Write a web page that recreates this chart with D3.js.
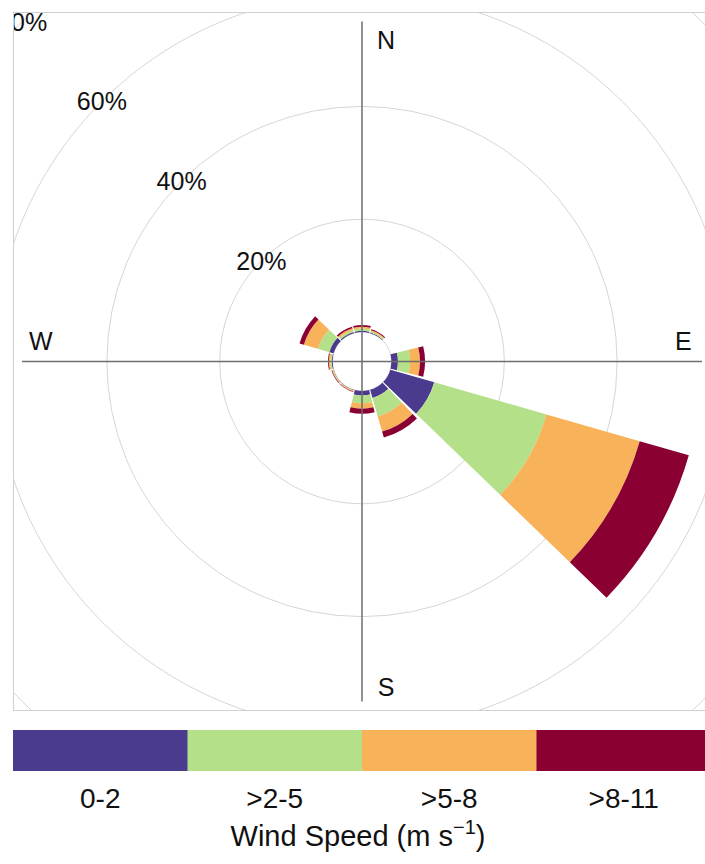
<!DOCTYPE html>
<html>
<head>
<meta charset="utf-8">
<script src="https://cdn.jsdelivr.net/npm/d3@7"></script>
<style>
  html, body { margin: 0; padding: 0; background: #fff; }
  svg { display: block; font-family: "Liberation Sans", Arial, Helvetica, sans-serif; }
</style>
</head>
<body>
<svg id="chart" width="705" height="864"></svg>
<script>
// Wind direction sectors (degrees from north, clockwise)
const directions = [0, 30, 60, 90, 120, 150, 180, 210, 240, 270, 300, 330];

// Percentage of time in each speed band, per direction sector
const speed0to2  = [0.20, 0.10, 0, 1.15,  8.10, 1.50, 0.80, 0.05, 0.05, 0.15, 0.80, 0.20];
const speed2to5  = [0.40, 0.25, 0, 2.15, 20.70, 3.40, 1.35, 0.10, 0.10, 0.25, 2.10, 0.35];
const speed5to8  = [0.35, 0.20, 0, 1.75, 17.20, 2.80, 1.00, 0.15, 0.15, 0.25, 2.60, 0.35];
const speed8to11 = [0.30, 0.15, 0, 0.90,  9.05, 1.10, 0.90, 0.10, 0.10, 0.15, 0.80, 0.30];

const bandLabels = ["0-2", ">2-5", ">5-8", ">8-11"];
const bandColors = ["#4b3b8f", "#b4e08a", "#f8b259", "#8b0033"];
const gridLevels = [0, 20, 40, 60, 80];
const gridLabels = ["20%", "40%", "60%", "80%"];
const compassLabels = ["N", "E", "S", "W"];

const series = [speed0to2, speed2to5, speed5to8, speed8to11];

const svg = d3.select("#chart");

// Plot panel
const panel = { x: 13, y: 12, w: 698, h: 699 };
const cx = panel.x + panel.w / 2;
const cy = panel.y + panel.h / 2;

// Radial scale: percentage -> radius, with a central hole
const r = d3.scaleLinear().domain([0, 20]).range([29.5, 142.3]);

svg.append("defs").append("clipPath").attr("id", "panelClip")
  .append("rect").attr("x", panel.x).attr("y", panel.y).attr("width", panel.w).attr("height", panel.h);

const g = svg.append("g").attr("clip-path", "url(#panelClip)");
const center = g.append("g").attr("transform", `translate(${cx},${cy})`);

// Grid circles
center.selectAll("circle.grid").data(gridLevels).join("circle")
  .attr("class", "grid")
  .attr("r", d => r(d))
  .attr("fill", "none")
  .attr("stroke", "#d6d6d6")
  .attr("stroke-width", 1);

// Stacked sectors
const stacked = directions.map((dir, i) => {
  let acc = 0;
  return series.map((s, k) => {
    const start = acc;
    acc += s[i];
    return { dir, k, start, end: acc };
  });
}).flat().filter(d => d.end > d.start);

const halfWidth = 14 * Math.PI / 180;
const arc = d3.arc()
  .innerRadius(d => r(d.start))
  .outerRadius(d => r(d.end))
  .startAngle(d => d.dir * Math.PI / 180 - halfWidth)
  .endAngle(d => d.dir * Math.PI / 180 + halfWidth);

center.selectAll("path.band").data(stacked).join("path")
  .attr("class", "band")
  .attr("d", arc)
  .attr("fill", d => bandColors[d.k]);

// Compass axes, reaching out to the longest sector
const totals = directions.map((_, i) => d3.sum(series, s => s[i]));
const R = r(d3.max(totals));

center.append("line").attr("x1", 0).attr("x2", 0).attr("y1", -R).attr("y2", R)
  .attr("stroke", "#6e6e6e").attr("stroke-width", 1.5);
center.append("line").attr("x1", -R).attr("x2", R).attr("y1", 0).attr("y2", 0)
  .attr("stroke", "#6e6e6e").attr("stroke-width", 1.5);

// Compass labels
const lr = R * 0.945;
const compassPos = {
  N: [24, -lr], E: [lr, -21], S: [24, lr + 4], W: [-lr, -21]
};
center.selectAll("text.compass").data(compassLabels).join("text")
  .attr("class", "compass")
  .attr("x", d => compassPos[d][0])
  .attr("y", d => compassPos[d][1])
  .attr("dy", "0.36em")
  .attr("text-anchor", "middle")
  .attr("font-size", 25)
  .attr("fill", "#111")
  .text(d => d);

// Percentage labels along the north-west diagonal
const diag = Math.SQRT1_2;
center.selectAll("text.pct").data(gridLabels).join("text")
  .attr("class", "pct")
  .attr("x", (d, i) => -r(gridLevels[i + 1]) * diag)
  .attr("y", (d, i) => -r(gridLevels[i + 1]) * diag)
  .attr("dy", "0.36em")
  .attr("text-anchor", "middle")
  .attr("font-size", 25)
  .attr("fill", "#111")
  .text(d => d);

// Panel border
svg.append("rect")
  .attr("x", panel.x + 0.5).attr("y", panel.y + 0.5)
  .attr("width", panel.w - 1).attr("height", panel.h - 1)
  .attr("fill", "none").attr("stroke", "#d0d0d0").attr("stroke-width", 1);

// Legend colour bar
const legend = svg.append("g");
const lx = d3.scaleBand().domain(bandLabels).range([panel.x, panel.x + panel.w]).paddingInner(0);
legend.selectAll("rect").data(bandLabels).join("rect")
  .attr("x", d => lx(d))
  .attr("y", 730)
  .attr("width", lx.bandwidth() + 0.5)
  .attr("height", 41)
  .attr("fill", (d, i) => bandColors[i]);

legend.selectAll("text.band").data(bandLabels).join("text")
  .attr("class", "band")
  .attr("x", d => lx(d) + lx.bandwidth() / 2)
  .attr("y", 808)
  .attr("text-anchor", "middle")
  .attr("font-size", 28)
  .attr("fill", "#111")
  .text(d => d);

const title = legend.append("text")
  .attr("x", cx - 4)
  .attr("y", 846)
  .attr("text-anchor", "middle")
  .attr("font-size", 29)
  .attr("fill", "#111");
title.append("tspan").text("Wind Speed (m s");
title.append("tspan").attr("font-size", 20).attr("dy", -12).text("\u22121");
title.append("tspan").attr("dy", 12).text(")");
</script>
</body>
</html>
